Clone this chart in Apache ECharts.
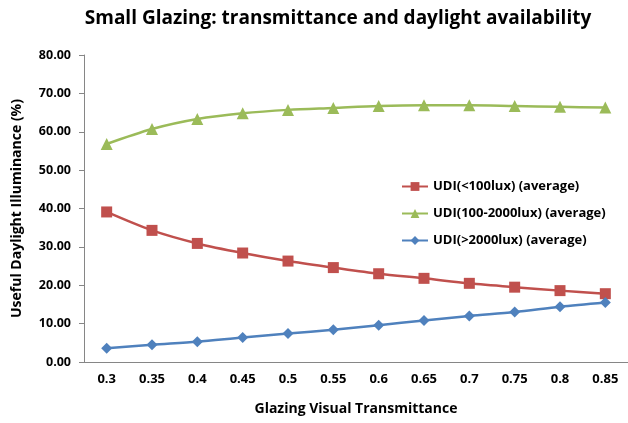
<!DOCTYPE html>
<html>
<head>
<meta charset="utf-8">
<script src="https://cdn.jsdelivr.net/npm/echarts@6/dist/echarts.min.js"></script>
<style>
  html, body { margin: 0; padding: 0; background: #fff; }
  #chart { width: 628px; height: 423px; }
</style>
</head>
<body>
<div id="chart"></div>
<script>
// x axis categories (glazing visual transmittance)
const transmittance = ["0.3", "0.35", "0.4", "0.45", "0.5", "0.55", "0.6", "0.65", "0.7", "0.75", "0.8", "0.85"];
// UDI values (%)
const udiLow = [39.1, 34.3, 30.9, 28.4, 26.3, 24.6, 23.0, 21.8, 20.5, 19.5, 18.6, 17.8];
const udiMid = [56.8, 60.7, 63.3, 64.8, 65.7, 66.2, 66.7, 66.9, 66.9, 66.7, 66.5, 66.3];
const udiHigh = [3.6, 4.5, 5.3, 6.4, 7.4, 8.4, 9.6, 10.8, 12.0, 13.0, 14.4, 15.5];
const yTicks = { min: 0, max: 80, interval: 10 };

const chart = echarts.init(document.getElementById("chart"));

const fontFam = "'Open Sans', 'Liberation Sans', sans-serif";

chart.setOption({
  animation: false,
  title: {
    text: "Small Glazing: transmittance and daylight availability",
    left: 333,
    top: 4,
    textAlign: "center",
    textStyle: { fontFamily: fontFam, fontSize: 19, fontWeight: "bold", color: "#000" }
  },
  legend: {
    orient: "vertical",
    left: 396,
    top: 175,
    itemGap: 14,
    itemWidth: 26,
    itemHeight: 11,
    textStyle: { fontFamily: fontFam, fontSize: 13, fontWeight: "bold", color: "#000" },
    data: ["UDI(<100lux) (average)", "UDI(100-2000lux) (average)", "UDI(>2000lux) (average)"]
  },
  grid: { left: 84, top: 55, width: 557, height: 307 },
  xAxis: {
    type: "category",
    data: transmittance,
    name: "Glazing Visual Transmittance",
    nameLocation: "middle",
    nameGap: 40,
    nameTextStyle: { fontFamily: fontFam, fontSize: 14, fontWeight: "bold", color: "#000" },
    axisLine: { lineStyle: { color: "#868686" } },
    axisTick: { show: false },
    axisLabel: { fontFamily: fontFam, fontSize: 13, fontWeight: "bold", color: "#000", margin: 11 }
  },
  yAxis: {
    type: "value",
    min: yTicks.min,
    max: yTicks.max,
    interval: yTicks.interval,
    name: "Useful Daylight Illuminance (%)",
    nameLocation: "middle",
    nameGap: 60,
    nameTextStyle: { fontFamily: fontFam, fontSize: 14, fontWeight: "bold", color: "#000" },
    axisLine: { show: true, lineStyle: { color: "#868686" } },
    axisTick: { show: true, length: 5, lineStyle: { color: "#868686" } },
    splitLine: { show: false },
    axisLabel: {
      fontFamily: fontFam, fontSize: 12.5, fontWeight: "bold", color: "#000", margin: 13,
      formatter: v => v.toFixed(2)
    }
  },
  series: [
    {
      name: "UDI(<100lux) (average)",
      type: "line",
      data: udiLow,
      smooth: 0.3,
      symbol: "rect",
      symbolSize: 11,
      color: "#C0504D",
      lineStyle: { width: 2.5 }
    },
    {
      name: "UDI(100-2000lux) (average)",
      type: "line",
      data: udiMid,
      smooth: 0.3,
      symbol: "triangle",
      symbolSize: 12,
      color: "#9BBB59",
      lineStyle: { width: 2.5 }
    },
    {
      name: "UDI(>2000lux) (average)",
      type: "line",
      data: udiHigh,
      smooth: 0.3,
      symbol: "diamond",
      symbolSize: 11,
      color: "#4F81BD",
      lineStyle: { width: 2.5 }
    }
  ]
});
</script>
</body>
</html>
